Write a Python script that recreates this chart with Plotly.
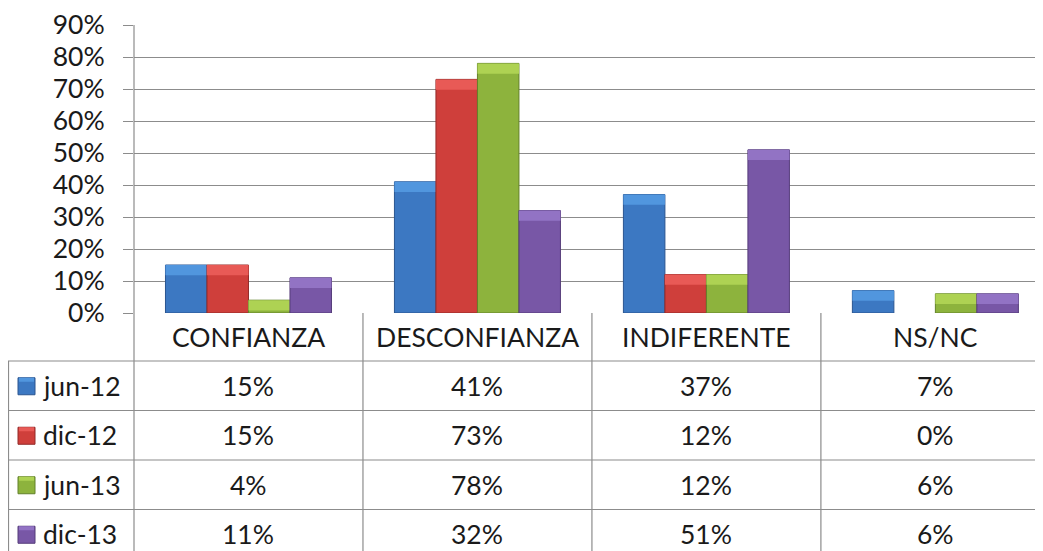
import plotly.graph_objects as go

categories = ["CONFIANZA", "DESCONFIANZA", "INDIFERENTE", "NS/NC"]
series_names = ["jun-12", "dic-12", "jun-13", "dic-13"]
jun12 = [15, 41, 37, 7]
dic12 = [15, 73, 12, 0]
jun13 = [4, 78, 12, 6]
dic13 = [11, 32, 51, 6]
series_values = [jun12, dic12, jun13, dic13]
y_ticks = list(range(0, 91, 10))
y_tick_labels = [f"{v}%" for v in y_ticks]

colors = ["#3c78c2", "#cf3f3b", "#8db33d", "#7857a6"]
light = ["#5196de", "#e85a56", "#aed253", "#9273c4"]
dark = ["#2a5590", "#922a28", "#62812a", "#553c7a"]

OFF = 8  # page body margin offset
W, H = 1043 - OFF, 551 - OFF
FONT = "Lato"
FS = 26.5
TXT = "#1a1a1a"
GRID = "#8c8c8c"

def px(x):
    return (x - OFF) / W

def py(y):
    return 1 - (y - OFF) / H

fig = go.Figure()
band = 3.2
for i, (name, vals) in enumerate(zip(series_names, series_values)):
    fig.add_trace(go.Bar(
        x=categories, y=vals, name=name, offsetgroup=str(i),
        marker=dict(color=colors[i],
                    line=dict(color=dark[i], width=[1 if v > 0 else 0 for v in vals])),
        showlegend=False,
    ))
    hb = [min(v, band) for v in vals]
    fig.add_trace(go.Bar(
        x=categories, y=hb, base=[v - h for v, h in zip(vals, hb)],
        offsetgroup=str(i),
        marker=dict(color=light[i], line=dict(color=dark[i], width=0)),
        showlegend=False, hoverinfo="skip",
    ))

x0 = 134
ytop, ybot = 25, 313
fig.update_layout(
    width=W, height=H,
    margin=dict(l=0, r=0, t=0, b=0),
    paper_bgcolor="white", plot_bgcolor="white",
    barmode="group", bargap=0.275, bargroupgap=0,
    font=dict(family=FONT, size=FS, color=TXT),
    xaxis=dict(domain=[px(x0), 1], range=[-0.5, 3.47], showticklabels=False,
               showgrid=False, zeroline=False, showline=False, ticks="",
               automargin=False),
    yaxis=dict(domain=[py(ybot), py(ytop)], range=[0, 90], tickvals=y_ticks,
               ticktext=y_tick_labels, showgrid=True, gridcolor=GRID,
               gridwidth=1.2, zeroline=False, showline=False, ticks="outside",
               ticklen=10, tickcolor=GRID, tickwidth=1.2, ticklabelstandoff=13,
               tickfont=dict(family=FONT, size=FS, color=TXT), automargin=False),
)

shapes = []
line = dict(color=GRID, width=1.2)
shapes.append(dict(type="line", xref="paper", yref="paper", x0=px(x0), x1=px(x0),
                   y0=py(ytop), y1=py(565), line=line))
for b in [0.5, 1.5, 2.5]:
    shapes.append(dict(type="line", xref="x", yref="paper", x0=b, x1=b,
                       y0=py(ybot), y1=py(565), line=line))
row_lines = [361, 410.5, 460, 509.5]
for ry in row_lines:
    shapes.append(dict(type="line", xref="paper", yref="paper", x0=px(8), x1=1,
                       y0=py(ry), y1=py(ry), line=line))
shapes.append(dict(type="line", xref="paper", yref="paper", x0=px(8.5), x1=px(8.5),
                   y0=py(361), y1=py(565), line=line))

annotations = []
header_c = (ybot + 361) / 2
for j, c in enumerate(categories):
    annotations.append(dict(x=j, y=py(header_c), xref="x", yref="paper", text=c,
                            showarrow=False, xanchor="center", yanchor="middle",
                            font=dict(family=FONT, size=FS, color=TXT)))
row_h = 49.5
for i, (name, vals) in enumerate(zip(series_names, series_values)):
    cy = row_lines[i] + row_h / 2
    shapes.append(dict(type="rect", xref="paper", yref="paper",
                       x0=px(18), x1=px(35), y0=py(cy - 8), y1=py(cy + 9),
                       fillcolor=colors[i], line=dict(color=dark[i], width=1)))
    shapes.append(dict(type="rect", xref="paper", yref="paper",
                       x0=px(19), x1=px(34), y0=py(cy - 8), y1=py(cy - 4),
                       fillcolor=light[i], line=dict(width=0)))
    annotations.append(dict(x=px(41), y=py(cy), xref="paper", yref="paper",
                            text=name, showarrow=False, xanchor="left",
                            yanchor="middle",
                            font=dict(family=FONT, size=FS, color=TXT)))
    for j, v in enumerate(vals):
        annotations.append(dict(x=j, y=py(cy), xref="x", yref="paper",
                                text=f"{v}%", showarrow=False, xanchor="center",
                                yanchor="middle",
                                font=dict(family=FONT, size=FS, color=TXT)))

fig.update_layout(shapes=shapes, annotations=annotations)
fig.write_html("out.html")
